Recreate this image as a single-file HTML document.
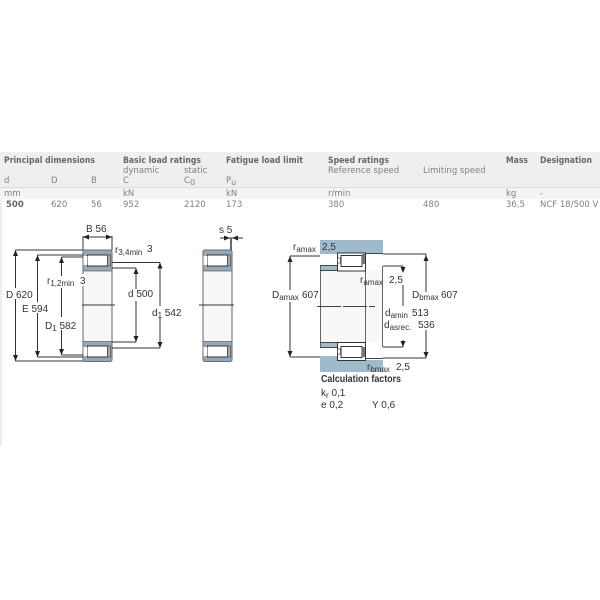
<!DOCTYPE html>
<html><head><meta charset="utf-8"><style>
html,body{margin:0;padding:0;background:#fff}
svg{display:block;filter:blur(.35px)}
text{font-family:"DejaVu Sans",sans-serif;font-size:8.5px;fill:#808080}
.b{font-weight:bold;fill:#666}
.d{font-family:"Liberation Sans",sans-serif;font-size:10px;fill:#333}
.s{font-family:"Liberation Sans",sans-serif;font-size:8px;fill:#333}
.l{stroke:#333;stroke-width:1;fill:none}
</style></head><body>
<svg width="600" height="600" viewBox="0 0 600 600" xmlns="http://www.w3.org/2000/svg">
<defs>
<g id="brg">
<rect x="0" y="0" width="29" height="111.500" rx="2" fill="#f8f8f8" stroke="#666"/>
<path d="M0 2Q0 0 2 0H27Q29 0 29 2V21H0Z" fill="#93a8b8" stroke="#666" stroke-width=".7"/>
<rect x="4.500" y="5" width="20" height="11" fill="#fff" stroke="#333"/>
<rect x=".5" y="6" width="4" height="9" fill="#fff"/>
<rect x="24.500" y="5" width="3" height="11" fill="#aaa" stroke="#444" stroke-width=".6"/>
<path d="M0 91.500H29V109.500Q29 111.500 27 111.500H2Q0 111.500 0 109.500Z" fill="#93a8b8" stroke="#666" stroke-width=".7"/>
<rect x="4.500" y="96" width="20" height="11" fill="#fff" stroke="#333"/>
<rect x=".5" y="97" width="4" height="9" fill="#fff"/>
<rect x="24.500" y="96" width="3" height="11" fill="#aaa" stroke="#444" stroke-width=".6"/>
</g>
<g id="u"><path d="M0 0L-2.500 6H2.500Z" fill="#222"/></g>
<g id="v"><path d="M0 0L-2.500 -6H2.500Z" fill="#222"/></g>
<g id="r"><path d="M0 0L6 -2.500V2.500Z" fill="#222"/></g>
<g id="e"><path d="M0 0L-6 -2.500V2.500Z" fill="#222"/></g>
</defs>
<rect x="0" y="198" width="2" height="248" fill="#eee"/>
<rect x="0" y="152" width="600" height="47" fill="#efefef"/>
<rect x="0" y="187" width="600" height="12" fill="#f4f4f4"/>
<line x1="0" y1="187.500" x2="600" y2="187.500" stroke="#ddd"/>
<text class="b" x="4" y="163" textLength="91" lengthAdjust="spacingAndGlyphs">Principal dimensions</text>
<text class="b" x="123" y="163" textLength="78" lengthAdjust="spacingAndGlyphs">Basic load ratings</text>
<text class="b" x="226" y="163" textLength="77" lengthAdjust="spacingAndGlyphs">Fatigue load limit</text>
<text class="b" x="328" y="163" textLength="61" lengthAdjust="spacingAndGlyphs">Speed ratings</text>
<text class="b" x="506" y="163" textLength="22" lengthAdjust="spacingAndGlyphs">Mass</text>
<text class="b" x="540" y="163" textLength="52" lengthAdjust="spacingAndGlyphs">Designation</text>
<text x="123" y="173">dynamic</text><text x="184" y="173">static</text>
<text x="328" y="173">Reference speed</text><text x="423" y="173">Limiting speed</text>
<text x="4" y="183">d</text><text x="51" y="183">D</text><text x="91" y="183">B</text><text x="123" y="183">C</text>
<text x="184" y="183">C<tspan font-size="8" dy="2">0</tspan></text>
<text x="226" y="183">P<tspan font-size="8" dy="2">u</tspan></text>
<text x="4" y="196">mm</text><text x="123" y="196">kN</text><text x="226" y="196">kN</text><text x="328" y="196">r/min</text><text x="506" y="196">kg</text><text x="540" y="196">-</text>
<text class="b" x="6" y="207">500</text><text x="51" y="207">620</text><text x="91" y="207">56</text><text x="123" y="207">952</text><text x="184" y="207">2120</text><text x="226" y="207">173</text><text x="328" y="207">380</text><text x="423" y="207">480</text><text x="506" y="207">36,5</text><text x="540" y="207">NCF 18/500 V</text>

<use href="#brg" x="83" y="250"/>
<path class="l" d="M82 305H115M83 236V250M112 236V250M83 237H112"/>
<use href="#r" x="83" y="237"/><use href="#e" x="112" y="237"/>
<path class="l" d="M15.500 250H83M15.500 361H83M15.500 250V361M37.500 255H83M37.500 357H83M37.500 255V357M61.500 257H83M61.500 355H83M61.500 257V355"/>
<use href="#u" x="15.500" y="250"/><use href="#v" x="15.500" y="361"/><use href="#u" x="37.500" y="255"/><use href="#v" x="37.500" y="357"/><use href="#u" x="61.500" y="257"/><use href="#v" x="61.500" y="355"/>
<path class="l" d="M112 262.500H160M112 348H160M160 262.500V348M112 268H136M112 342H136M136 268V342"/>
<use href="#u" x="160" y="262.500"/><use href="#v" x="160" y="348"/><use href="#u" x="136" y="268"/><use href="#v" x="136" y="342"/>
<g fill="#fff"><rect x="8" y="288" width="24" height="11"/><rect x="24" y="302" width="24" height="11"/><rect x="48" y="276" width="26" height="12"/><rect x="46" y="317" width="28" height="13"/><rect x="126" y="289" width="28" height="12"/><rect x="150" y="306" width="34" height="12"/><rect x="78" y="274" width="8" height="12"/></g>
<text class="d" x="6" y="298">D 620</text>
<text class="d" x="22" y="312">E 594</text>
<text class="d" x="45" y="329">D<tspan class="s" dy="2">1</tspan><tspan dy="-2"> 582</tspan></text>
<text class="d" x="47" y="284">r<tspan class="s" dy="2">1,2min</tspan></text>
<text class="d" x="80" y="284">3</text>
<text class="d" x="128" y="297">d 500</text>
<text class="d" x="152" y="316">d<tspan class="s" dy="2">1</tspan><tspan dy="-2"> 542</tspan></text>
<text class="d" x="86" y="232">B 56</text>
<text class="d" x="115" y="253">r<tspan class="s" dy="2">3,4min</tspan></text>
<text class="d" x="147" y="252">3</text>

<use href="#brg" x="203" y="250"/>
<path class="l" d="M199 305H234M220 238H243"/>
<path d="M231 238V250" stroke="#666" stroke-width="2"/>
<use href="#r" x="232" y="238"/><use href="#e" x="230" y="238"/>
<text class="d" x="219" y="233">s 5</text>

<rect x="320" y="240" width="63" height="14" fill="#9fb9cd"/>
<rect x="320" y="265" width="17" height="5" fill="#9fb9cd"/>
<rect x="320" y="342" width="17" height="5" fill="#9fb9cd"/>
<rect x="320" y="356" width="17" height="5" fill="#9fb9cd"/>
<rect x="320" y="360" width="63" height="12" fill="#9fb9cd"/>
<rect x="320" y="270" width="63" height="72" fill="#f8f8f8"/>
<path d="M320.500 266V347M365.500 271V342M382.500 266V347" stroke="#666" fill="none"/>
<path d="M320 265.500H337M320 270.500H337M320 342.500H337M320 347.500H337M337 253.500H383M337 358.500H383" stroke="#444" fill="none"/>
<rect x="337.500" y="253" width="28" height="18" fill="#fff" stroke="#333"/>
<rect x="341" y="255.500" width="21" height="11" fill="#fff" stroke="#333"/>
<rect x="337.500" y="258" width="3" height="5" fill="#fff" stroke="#333" stroke-width=".6"/>
<rect x="362" y="254" width="3" height="10" fill="#777"/>
<rect x="337.500" y="342.500" width="28" height="18" fill="#fff" stroke="#333"/>
<rect x="341" y="346.500" width="21" height="11" fill="#fff" stroke="#333"/>
<rect x="337.500" y="349" width="3" height="5" fill="#fff" stroke="#333" stroke-width=".6"/>
<rect x="362" y="347" width="3" height="10" fill="#777"/>
<path class="l" d="M290 256H320M290 256V290M290 302V357M290 357H320M426 254V292M426 330V358M383 254H426M383 358H426M383 266H403M383 347H403M403 266V272M403 340V347M403 285V306"/>
<path d="M317 306.500H375" stroke="#444" stroke-dasharray="24 2" fill="none"/>
<use href="#u" x="290" y="256"/><use href="#v" x="290" y="357"/><use href="#u" x="426" y="255"/><use href="#v" x="426" y="358"/><use href="#v" x="403" y="273"/><use href="#v" x="403" y="347"/>
<text class="d" x="293" y="250">r<tspan class="s" dy="2">amax</tspan></text>
<text class="d" x="322" y="250">2,5</text>
<text class="d" x="360" y="283">r<tspan class="s" dy="2">amax</tspan></text>
<text class="d" x="389" y="283">2,5</text>
<text class="d" x="272" y="298">D<tspan class="s" dy="2">amax</tspan></text>
<text class="d" x="302" y="298">607</text>
<text class="d" x="412" y="298">D<tspan class="s" dy="2">bmax</tspan></text>
<text class="d" x="441" y="298">607</text>
<text class="d" x="385" y="316">d<tspan class="s" dy="2">amin</tspan></text>
<text class="d" x="412" y="316">513</text>
<text class="d" x="384" y="328">d<tspan class="s" dy="2">asrec.</tspan></text>
<text class="d" x="418" y="328">536</text>
<text class="d" x="367" y="370">r<tspan class="s" dy="2">bmax</tspan></text>
<text class="d" x="396" y="370">2,5</text>
<text class="d" x="321" y="382" style="font-weight:bold" textLength="80" lengthAdjust="spacingAndGlyphs">Calculation factors</text>
<text class="d" x="321" y="396">k<tspan class="s" dy="2">r</tspan><tspan dy="-2"> 0,1</tspan></text>
<text class="d" x="321" y="408">e 0,2</text>
<text class="d" x="372" y="408">Y 0,6</text>
</svg>
</body></html>
